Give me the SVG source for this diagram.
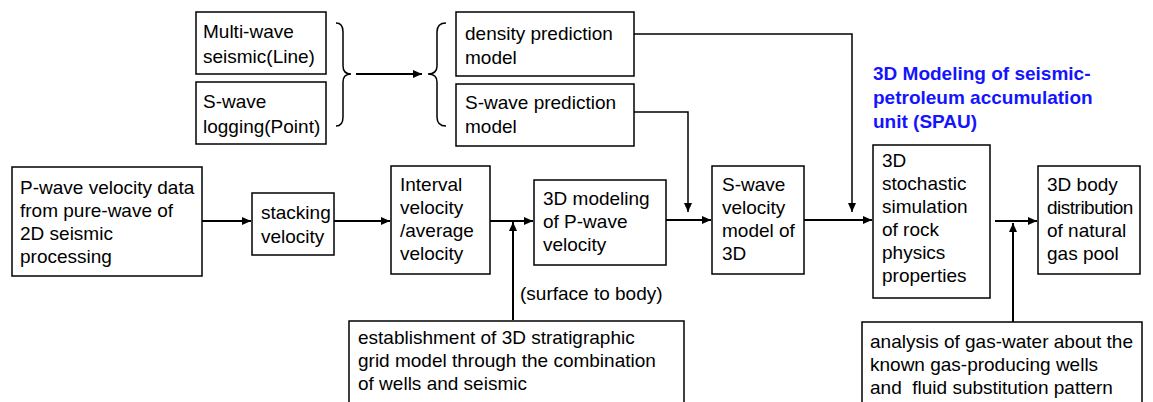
<svg xmlns="http://www.w3.org/2000/svg" width="1153" height="402" viewBox="0 0 1153 402">
<style>
.box{fill:#fff;stroke:#000;stroke-width:1.5}
.t{font-family:"Liberation Sans",Arial,sans-serif;font-size:19px;fill:#000}
.c{fill:none;stroke:#000;stroke-width:2}
.thin{fill:none;stroke:#000;stroke-width:1.5}
.title{font-family:"Liberation Sans",Arial,sans-serif;font-size:19px;font-weight:bold;fill:#1414ff}
</style>
<defs>
<marker id="ah" markerWidth="10" markerHeight="10" refX="9" refY="5" orient="auto" markerUnits="userSpaceOnUse">
<path d="M0,1 L9,5 L0,9 z" fill="#000"/>
</marker>
</defs>
<rect width="1153" height="402" fill="#fff"/>
<g id="connectors">
<path class="c" d="M202,221 H251" marker-end="url(#ah)"/>
<path class="c" d="M334,221 H390" marker-end="url(#ah)"/>
<path class="c" d="M490,221 H533" marker-end="url(#ah)"/>
<path class="c" d="M513,320 V222" marker-end="url(#ah)"/>
<path class="c" d="M666,220 H711" marker-end="url(#ah)"/>
<path class="thin" d="M634,112 H688 V212" marker-end="url(#ah)"/>
<path class="c" d="M804,220 H872" marker-end="url(#ah)"/>
<path class="thin" d="M634,34 H852 V212" marker-end="url(#ah)"/>
<path class="c" d="M995,221 H1037" marker-end="url(#ah)"/>
<path class="c" d="M1013,322 V223" marker-end="url(#ah)"/>
<path class="c" d="M356,74 H422" marker-end="url(#ah)"/>
<path class="thin" d="M336,23 Q343,23 343,32 V66 Q343,74 351,74 Q343,74 343,82 V117 Q343,126 336,126"/>
<path class="thin" d="M446,23 Q437,23 437,32 V66 Q437,74 428,74 Q437,74 437,82 V117 Q437,126 446,126"/>
</g>
<g id="n_multiwave">
<rect class="box" x="196" y="12" width="130" height="62"/>
<text class="t" x="203" y="38">Multi-wave</text>
<text class="t" x="203" y="63">seismic(Line)</text>
</g>
<g id="n_swavelog">
<rect class="box" x="196" y="82" width="130" height="62"/>
<text class="t" x="203" y="108">S-wave</text>
<text class="t" x="203" y="133">logging(Point)</text>
</g>
<g id="n_density">
<rect class="box" x="456" y="12" width="178" height="64"/>
<text class="t" x="465" y="40">density prediction</text>
<text class="t" x="465" y="64">model</text>
</g>
<g id="n_swavepred">
<rect class="box" x="456" y="84" width="178" height="62"/>
<text class="t" x="465" y="109">S-wave prediction</text>
<text class="t" x="465" y="133">model</text>
</g>
<g id="n_pwave">
<rect class="box" x="12" y="167" width="190" height="109"/>
<text class="t" x="20" y="194">P-wave velocity data</text>
<text class="t" x="20" y="217">from pure-wave of</text>
<text class="t" x="20" y="240">2D seismic</text>
<text class="t" x="20" y="263">processing</text>
</g>
<g id="n_stacking">
<rect class="box" x="252" y="193" width="82" height="62"/>
<text class="t" x="261" y="219">stacking</text>
<text class="t" x="261" y="243">velocity</text>
</g>
<g id="n_interval">
<rect class="box" x="391" y="166" width="99" height="108"/>
<text class="t" x="400" y="191">Interval</text>
<text class="t" x="400" y="214">velocity</text>
<text class="t" x="400" y="237">/average</text>
<text class="t" x="400" y="260">velocity</text>
</g>
<g id="n_3dp">
<rect class="box" x="534" y="180" width="132" height="85"/>
<text class="t" x="543" y="205">3D modeling</text>
<text class="t" x="543" y="228">of P-wave</text>
<text class="t" x="543" y="251">velocity</text>
</g>
<g id="n_swavevel">
<rect class="box" x="712" y="166" width="92" height="108"/>
<text class="t" x="722" y="191">S-wave</text>
<text class="t" x="722" y="214">velocity</text>
<text class="t" x="722" y="237">model of</text>
<text class="t" x="722" y="260">3D</text>
</g>
<g id="n_stoch">
<rect class="box" x="873" y="145" width="117" height="153"/>
<text class="t" x="882" y="167">3D</text>
<text class="t" x="882" y="190">stochastic</text>
<text class="t" x="882" y="213">simulation</text>
<text class="t" x="882" y="236">of rock</text>
<text class="t" x="882" y="259">physics</text>
<text class="t" x="882" y="282">properties</text>
</g>
<g id="n_body">
<rect class="box" x="1038" y="166" width="102" height="108"/>
<text class="t" x="1047" y="191">3D body</text>
<text class="t" x="1047" y="214" letter-spacing="-0.5">distribution</text>
<text class="t" x="1047" y="237">of natural</text>
<text class="t" x="1047" y="260">gas pool</text>
</g>
<g id="n_establish">
<rect class="box" x="349" y="321" width="335" height="90"/>
<text class="t" x="358" y="344">establishment of 3D stratigraphic</text>
<text class="t" x="358" y="367">grid model through the combination</text>
<text class="t" x="358" y="390">of wells and seismic</text>
</g>
<g id="n_analysis">
<rect class="box" x="862" y="322" width="280" height="90"/>
<text class="t" x="870" y="348">analysis of gas-water about the</text>
<text class="t" x="870" y="371">known gas-producing wells</text>
<text class="t" x="870" y="394" xml:space="preserve">and  fluid substitution pattern</text>
</g>
<g id="label_surface">
<text class="t" x="520" y="300">(surface to body)</text>
</g>
<g id="title">
<text class="title" x="873" y="80">3D Modeling of seismic-</text>
<text class="title" x="873" y="104">petroleum accumulation</text>
<text class="title" x="873" y="128">unit (SPAU)</text>
</g>
</svg>
